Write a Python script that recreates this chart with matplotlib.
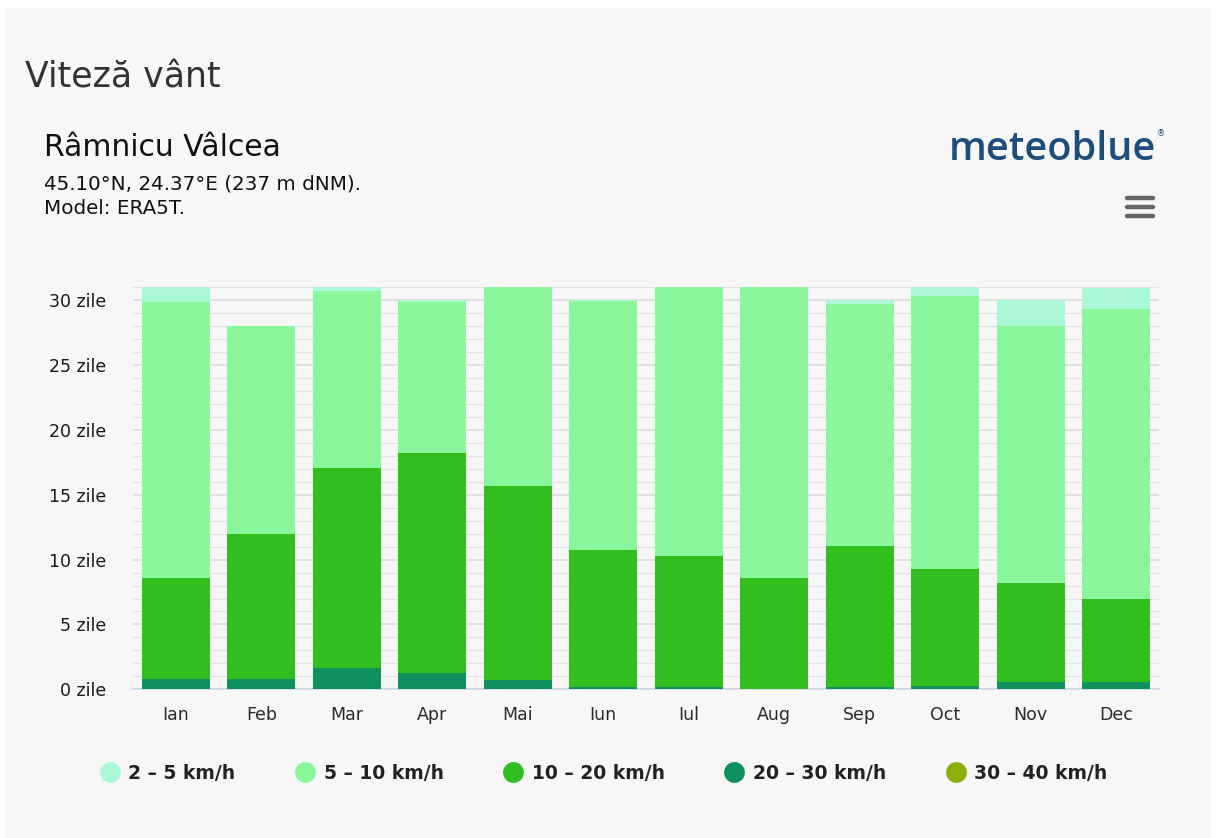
import matplotlib.pyplot as plt
from matplotlib.patches import Rectangle
from matplotlib.lines import Line2D
import numpy as np

# Data (days per month in each wind-speed class)
months = ['Ian', 'Feb', 'Mar', 'Apr', 'Mai', 'Iun', 'Iul', 'Aug', 'Sep', 'Oct', 'Nov', 'Dec']
days_30_40 = [0, 0, 0, 0, 0, 0, 0, 0, 0, 0, 0, 0]
days_20_30 = [0.8, 0.8, 1.65, 1.25, 0.7, 0.18, 0.15, 0.05, 0.18, 0.28, 0.56, 0.56]
days_10_20 = [7.8, 11.2, 15.4, 16.95, 15.0, 10.6, 10.1, 8.55, 10.9, 9.0, 7.65, 6.4]
days_5_10 = [21.3, 16.0, 13.7, 11.7, 15.3, 19.2, 20.75, 22.4, 18.67, 21.05, 19.8, 22.4]
days_2_5 = [1.1, 0.05, 0.25, 0.1, 0.0, 0.02, 0.0, 0.0, 0.25, 0.66, 2.0, 1.62]

labels = ['2 – 5 km/h', '5 – 10 km/h', '10 – 20 km/h', '20 – 30 km/h', '30 – 40 km/h']
colors = ['#abf8d6', '#8af79d', '#33be1f', '#0f915f', '#8cb00b']

W, H = 1216, 838
fig = plt.figure(figsize=(W / 100, H / 100), dpi=100)
fig.patch.set_facecolor('white')
fig.add_artist(Rectangle((6 / W, 0), 1204 / W, 1 - 8 / H, transform=fig.transFigure,
                         facecolor='#f7f7f7', edgecolor='none', zorder=-10))

ax = fig.add_axes([133 / W, 1 - 689.3 / H, 1026 / W, 402 / H])
ax.set_zorder(2)
ax.set_facecolor('#f7f7f7')

x = np.arange(len(months))
bottom = np.zeros(len(months))
stack = [(days_30_40, colors[4]), (days_20_30, colors[3]), (days_10_20, colors[2]),
         (days_5_10, colors[1]), (days_2_5, colors[0])]
for vals, c in stack:
    ax.bar(x, vals, bottom=bottom, width=0.8, color=c, edgecolor='none', zorder=3)
    bottom += np.array(vals)

ax.set_xlim(-0.5, 11.5)
ax.set_ylim(0, 31)
ax.set_yticks(range(0, 31, 5))
ax.set_yticklabels([f'{v} zile' for v in range(0, 31, 5)])
ax.set_yticks(range(0, 32), minor=True)
ax.grid(axis='y', which='major', color='#dcdcdc', lw=1.2, zorder=0)
ax.grid(axis='y', which='minor', color='#e3e3e3', lw=1.0, zorder=0)
ax.set_xticks(x)
ax.set_xticklabels(months)
ax.tick_params(axis='both', which='both', length=0)
ax.tick_params(axis='y', labelsize=12.5, pad=19, colors='#1a1a1a')
ax.tick_params(axis='x', labelsize=12.5, pad=12, colors='#2a2a2a')
for s in ['top', 'right', 'left']:
    ax.spines[s].set_visible(False)
ax.spines['bottom'].set_color('#ccd6eb')
ax.spines['bottom'].set_linewidth(1.2)

# Titles
fig.text(25 / W, 1 - 77 / H, 'Viteză vânt', fontsize=25, color='#333333', va='center', ha='left')
fig.text(44 / W, 1 - 147 / H, 'Râmnicu Vâlcea', fontsize=21.5, color='#111111', va='center', ha='left')
fig.text(44 / W, 1 - 184 / H, '45.10°N, 24.37°E (237 m dNM).', fontsize=14.3, color='#111111',
         va='center', ha='left')
fig.text(44 / W, 1 - 209 / H, 'Model: ERA5T.', fontsize=14.3, color='#111111', va='center', ha='left')

# Logo
fig.text(1156 / W, 1 - 150 / H, 'meteoblue', fontsize=28.5, color='#1b4e7a', va='center', ha='right',
         family='Open Sans', weight='semibold')
fig.text(1157 / W, 1 - 134 / H, '®', fontsize=6, color='#1b4e7a', va='center', ha='left')

# Menu icon
for yy in (198, 207, 216):
    fig.add_artist(Line2D([1127 / W, 1153 / W], [1 - yy / H, 1 - yy / H], color='#666666',
                          lw=3.2, solid_capstyle='round', transform=fig.transFigure))

# Legend
handles = [Line2D([], [], marker='o', ls='none', markersize=15, markerfacecolor=c, markeredgecolor='none')
           for c in colors]
leg = fig.legend(handles, labels, loc='center', bbox_to_anchor=(603 / W, 1 - 773 / H), ncol=5,
                 frameon=False, handletextpad=0.4, columnspacing=3.1, handlelength=1.2,
                 prop={'size': 13.5, 'weight': 'bold'})
for t in leg.get_texts():
    t.set_color('#222222')

fig.savefig('out.png', dpi=100, facecolor=fig.get_facecolor())
